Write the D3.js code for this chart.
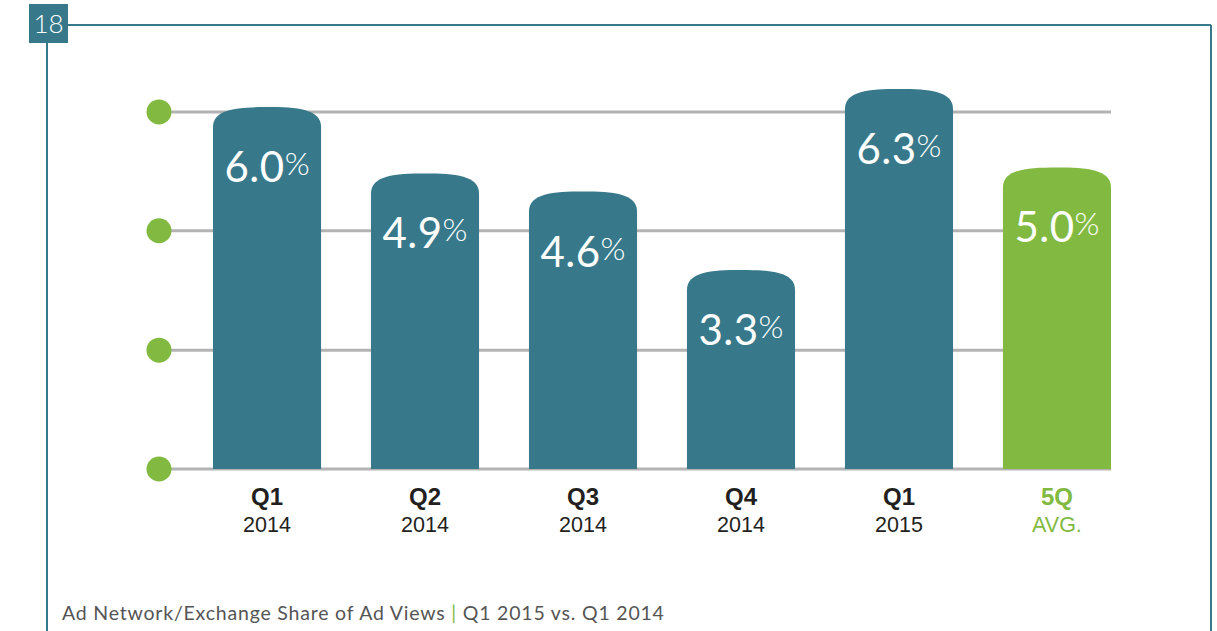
<!DOCTYPE html>
<html>
<head>
<meta charset="utf-8">
<script src="https://cdn.jsdelivr.net/npm/d3@7"></script>
<style>
  html, body { margin: 0; padding: 0; background: #fff; }
  svg { display: block; }
</style>
</head>
<body>
<svg></svg>
<script>
var width = 1217;
var height = 631;

// data
var quarters = ["Q1", "Q2", "Q3", "Q4", "Q1", "5Q"];
var years    = ["2014", "2014", "2014", "2014", "2015", "AVG."];
var shares   = [6.0, 4.9, 4.6, 3.3, 6.3, 5.0];
var isAvg    = [false, false, false, false, false, true];
var gridValues = [0, 1.97, 3.95, 5.92];
var pageNumber = "18";
var captionMain = "Ad Network/Exchange Share of Ad Views";
var captionSub = "Q1 2015 vs. Q1 2014";

const TEAL = "#37788a";
const GREEN = "#82ba41";
const GRID = "#b3b3b3";
const DARK = "#231f20";

var svg = d3.select("svg").attr("width", width).attr("height", height);

var data = shares.map(function(v, i) {
  return { key: i, q: quarters[i], y: years[i], v: v, avg: isAvg[i] };
});

var xScale = d3.scaleBand()
  .domain(data.map(d => d.key))
  .range([213, 1111])
  .paddingInner(0.316)
  .paddingOuter(0);

var yScale = d3.scaleLinear()
  .domain([0, 6.3])
  .range([469, 89]);

// frame + page badge
var frame = svg.append("g").attr("fill", "none").attr("stroke", TEAL).attr("stroke-width", 2);
frame.append("line").attr("x1", 47).attr("x2", 1211).attr("y1", 25).attr("y2", 25);
frame.append("line").attr("x1", 47).attr("x2", 47).attr("y1", 25).attr("y2", height);
frame.append("line").attr("x1", 1211).attr("x2", 1211).attr("y1", 25).attr("y2", height);

svg.append("rect").attr("x", 29).attr("y", 4).attr("width", 39).attr("height", 39).attr("fill", TEAL);
svg.append("text")
  .attr("x", 48.5).attr("y", 33)
  .attr("text-anchor", "middle")
  .attr("font-family", "Lato, 'Open Sans', sans-serif")
  .attr("font-weight", 300)
  .attr("font-size", 26)
  .attr("fill", "#fff")
  .text(pageNumber);

// gridlines with green dots
var grid = svg.append("g");
grid.selectAll("line")
  .data(gridValues)
  .enter()
  .append("line")
  .attr("x1", 159).attr("x2", xScale.range()[1])
  .attr("y1", d => yScale(d)).attr("y2", d => yScale(d))
  .attr("stroke", GRID)
  .attr("stroke-width", 3);
grid.selectAll("circle")
  .data(gridValues)
  .enter()
  .append("circle")
  .attr("cx", 159)
  .attr("cy", d => yScale(d))
  .attr("r", 12.5)
  .attr("fill", GREEN);

// bars with rounded cap
function capBar(d) {
  var x0 = xScale(d.key), w = xScale.bandwidth(), x1 = x0 + w, xm = x0 + w / 2;
  var t = yScale(d.v), b = yScale(0), h = 20;
  return "M" + x0 + "," + b +
    "L" + x0 + "," + (t + h) +
    "C" + x0 + "," + (t + 2) + " " + (x0 + w * 0.22) + "," + t + " " + xm + "," + t +
    "C" + (x1 - w * 0.22) + "," + t + " " + x1 + "," + (t + 2) + " " + x1 + "," + (t + h) +
    "L" + x1 + "," + b + "Z";
}

svg.append("g")
  .selectAll("path")
  .data(data)
  .enter()
  .append("path")
  .attr("d", capBar)
  .attr("fill", d => d.avg ? GREEN : TEAL);

// value labels
var vlab = svg.append("g")
  .selectAll("text")
  .data(data)
  .enter()
  .append("text")
  .attr("x", d => xScale(d.key) + xScale.bandwidth() / 2)
  .attr("y", d => yScale(d.v) + 75)
  .attr("text-anchor", "middle")
  .attr("font-family", "Lato, 'Open Sans', sans-serif")
  .attr("fill", "#fff");
vlab.append("tspan")
  .attr("font-size", 42)
  .attr("letter-spacing", 0.5)
  .text(d => d.v.toFixed(1));
vlab.append("tspan")
  .attr("font-size", 32)
  .attr("font-weight", 300)
  .attr("dy", -7)
  .text("%");

// category labels
var cat = svg.append("g")
  .attr("font-family", "'Liberation Sans', Arial, sans-serif")
  .attr("text-anchor", "middle");
cat.selectAll("text.q")
  .data(data)
  .enter()
  .append("text")
  .attr("class", "q")
  .attr("x", d => xScale(d.key) + xScale.bandwidth() / 2)
  .attr("y", 505)
  .attr("font-size", 24)
  .attr("font-weight", "bold")
  .attr("fill", d => d.avg ? GREEN : DARK)
  .text(d => d.q);
cat.selectAll("text.yr")
  .data(data)
  .enter()
  .append("text")
  .attr("class", "yr")
  .attr("x", d => xScale(d.key) + xScale.bandwidth() / 2)
  .attr("y", 532)
  .attr("font-size", 21.5)
  .attr("fill", d => d.avg ? GREEN : DARK)
  .text(d => d.y);

// caption
var cap = svg.append("text")
  .attr("x", 62).attr("y", 620)
  .attr("font-family", "Lato, 'Open Sans', sans-serif")
  .attr("font-size", 19.5)
  .attr("letter-spacing", 0.8)
  .attr("fill", "#555");
cap.append("tspan").text(captionMain + " ");
cap.append("tspan").attr("fill", GREEN).text("|");
cap.append("tspan").text(" " + captionSub);
</script>
</body>
</html>
